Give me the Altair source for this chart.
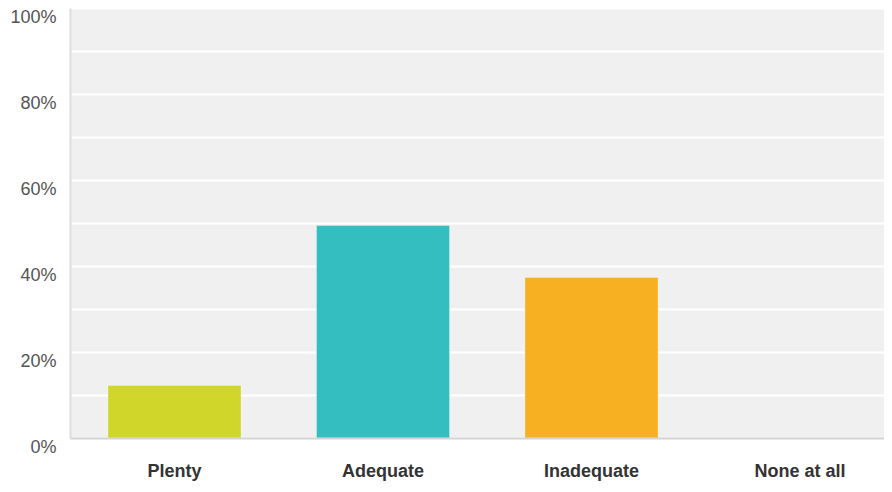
import altair as alt
import pandas as pd

categories = ["Plenty", "Adequate", "Inadequate", "None at all"]
values = [0.122, 0.494, 0.373, 0.0]
colors = ["#d0d62a", "#34bec0", "#f6b022", "#f0f0f0"]
grid_values = [0.0, 0.1, 0.2, 0.3, 0.4, 0.5, 0.6, 0.7, 0.8, 0.9, 1.0]

df = pd.DataFrame({"answer": categories, "share": values})

FONT = "Liberation Sans"

bars = alt.Chart(df).mark_bar(
    stroke="white", strokeOpacity=0.3, strokeWidth=1
).encode(
    x=alt.X(
        "answer:N",
        sort=categories,
        scale=alt.Scale(paddingInner=0.362, paddingOuter=0.133, align=0.685),
        axis=alt.Axis(
            title=None,
            labelAngle=0,
            labelFont=FONT,
            labelFontSize=18,
            labelFontWeight="bold",
            labelColor="#333333",
            labelPadding=24,
            ticks=False,
            domainColor="#d4d4d4",
            domainWidth=2,
            grid=False,
            zindex=1,
        ),
    ),
    y=alt.Y(
        "share:Q",
        scale=alt.Scale(domain=[0, 1], nice=False),
        axis=alt.Axis(
            title=None,
            format=".0%",
            values=grid_values,
            labelExpr="round(datum.value * 10) % 2 == 0 ? datum.label : ''",
            labelFont=FONT,
            labelFontSize=18,
            labelColor="#555555",
            labelPadding=14,
            labelOffset=9,
            ticks=False,
            domainColor="#dedede",
            domainWidth=2,
            gridColor="#ffffff",
            gridWidth=2,
            gridOpacity=1,
        ),
    ),
    color=alt.Color(
        "answer:N",
        scale=alt.Scale(domain=categories, range=colors),
        legend=None,
    ),
)

chart = bars.properties(
    width=814,
    height=430,
    autosize="none",
    padding={"left": 62, "top": 0, "right": 0, "bottom": 45},
    background="#ffffff",
).configure_view(
    fill="#f0f0f0",
    stroke=None,
)

chart.save("out.html", embed_options={"renderer": "svg", "actions": False})
